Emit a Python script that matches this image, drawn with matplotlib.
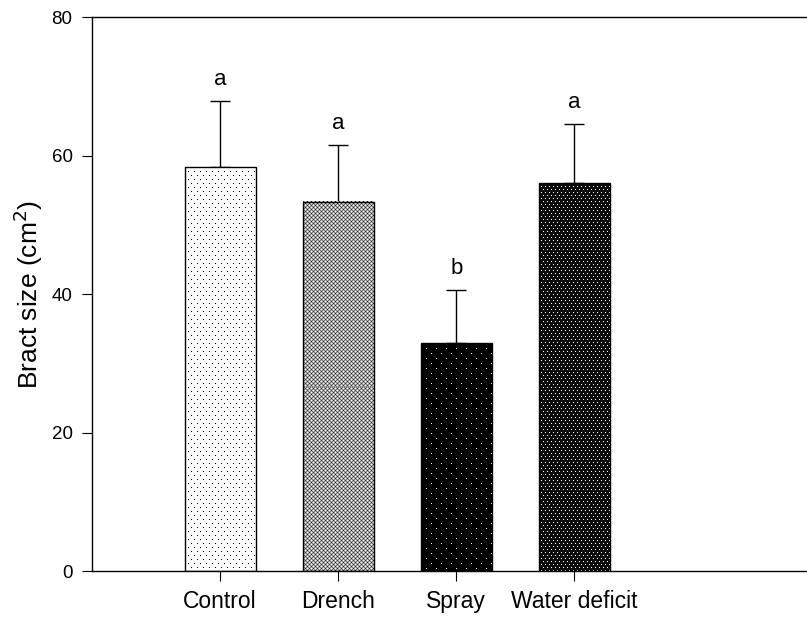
import matplotlib
matplotlib.use('Agg')
import matplotlib.pyplot as plt
import numpy as np

plt.rcParams['font.family'] = ['Liberation Sans', 'DejaVu Sans']

# Data
treatments = ['Control', 'Drench', 'Spray', 'Water deficit']
bract_size = [58.3, 53.3, 32.9, 56.0]
sd_upper = [9.6, 8.2, 7.7, 8.5]
letters = ['a', 'a', 'b', 'a']

fig = plt.figure(figsize=(8.07, 6.21), dpi=100)
ax = fig.add_axes([0.114, 0.0805, 0.886, 0.892])

x = list(range(len(treatments)))

ax.set_xlim(-1.085, 4.97)
ax.set_ylim(0, 80)


# pixel-level fill textures, SigmaPlot style
def dots(h, w, bg, fg, dx, dy, off):
    a = np.full((h, w), bg, dtype=float)
    for r in range(0, h, dy):
        shift = off if (r // dy) % 2 else 0
        a[r, shift::dx] = fg
    return a


def tile(h, w):
    t = np.array([[0.15, 0.7, 1.0, 0.7],
                  [0.7, 0.45, 0.7, 0.45],
                  [1.0, 0.7, 0.15, 0.7],
                  [0.7, 0.45, 0.7, 0.45]])
    return np.tile(t, (h // 4 + 1, w // 4 + 1))[:h, :w]


textures = [
    lambda h, w: dots(h, w, 1.0, 0.0, 6, 4, 3),
    tile,
    lambda h, w: dots(h, w, 0.0, 1.0, 10, 5, 5),
    lambda h, w: dots(h, w, 0.05, 1.0, 4, 3, 2),
]

bars = ax.bar(x, bract_size, width=0.6, facecolor='none', edgecolor='black',
              linewidth=1.0, zorder=4,
              yerr=[[0] * len(x), sd_upper],
              error_kw=dict(ecolor='black', elinewidth=1.0, capsize=7,
                            capthick=1.0, zorder=1))

for p, make in zip(bars.patches, textures):
    x0, x1 = p.get_x(), p.get_x() + p.get_width()
    y1 = p.get_height()
    (px0, py0), (px1, py1) = ax.transData.transform([(x0, 0), (x1, y1)])
    w = max(int(round(px1 - px0)), 1)
    h = max(int(round(py1 - py0)), 1)
    ax.imshow(make(h, w), cmap='gray', vmin=0, vmax=1, extent=(x0, x1, 0, y1),
              interpolation='nearest', aspect='auto', zorder=2)

for xi, h, e, lab in zip(x, bract_size, sd_upper, letters):
    ax.text(xi, h + e + 1.6, lab, ha='center', va='bottom', fontsize=16)

ax.set_xlim(-1.085, 4.97)
ax.set_ylim(0, 80)
ax.set_yticks([0, 20, 40, 60, 80])
ax.set_xticks(x)
ax.set_xticklabels(treatments, fontsize=16.5)
ax.tick_params(axis='y', direction='out', length=7, labelsize=13.5, pad=7)
ax.tick_params(axis='x', direction='out', length=7, pad=7)
ax.set_ylabel('Bract size (cm$^2$)', fontsize=19, labelpad=5)

ax.spines['right'].set_visible(False)
for s in ['left', 'bottom', 'top']:
    ax.spines[s].set_linewidth(1.0)

fig.savefig('out.png', dpi=100)
